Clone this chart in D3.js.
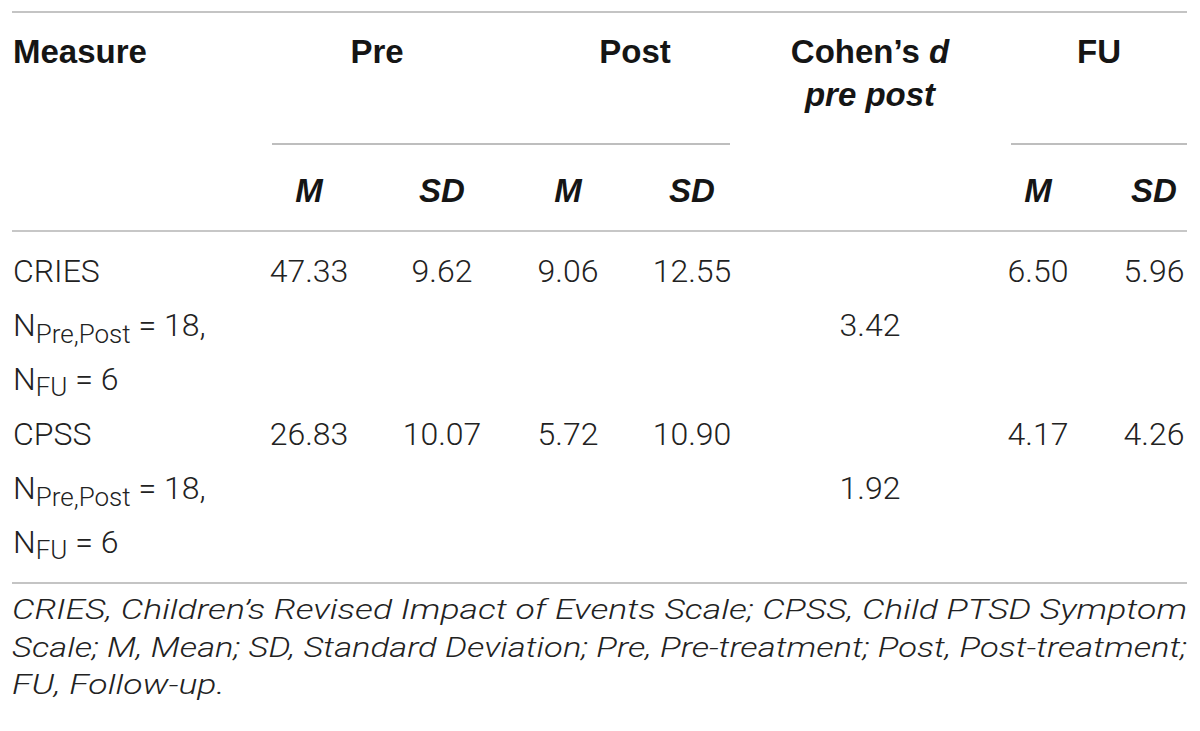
<!DOCTYPE html>
<html>
<head>
<meta charset="utf-8">
<script src="https://cdn.jsdelivr.net/npm/d3@7/dist/d3.min.js"></script>
<style>
  body { margin: 0; background: #fff; }
  .hd { font-family: "Liberation Sans", Arial, sans-serif; font-weight: bold; font-size: 33px; fill: #151515; }
  .bd { font-family: Roboto, "Liberation Sans", sans-serif; font-weight: 300; font-size: 32px; fill: #222; }
  .fn { font-family: Roboto, "Liberation Sans", sans-serif; font-weight: 300; font-style: italic; font-size: 28px; fill: #222; }
</style>
</head>
<body>
<svg id="table"></svg>
<script>
// table values
var measures = ["CRIES", "CPSS"];
var preM = [47.33, 26.83];
var preSD = [9.62, 10.07];
var postM = [9.06, 5.72];
var postSD = [12.55, 10.90];
var cohensD = [3.42, 1.92];
var fuM = [6.50, 4.17];
var fuSD = [5.96, 4.26];
var nPrePost = [18, 18];
var nFU = [6, 6];

var groupHeads = ["Pre", "Post", "FU"];
var subHeads = ["M", "SD"];
var footLines = [
  "CRIES, Children’s Revised Impact of Events Scale; CPSS, Child PTSD Symptom",
  "Scale; M, Mean; SD, Standard Deviation; Pre, Pre-treatment; Post, Post-treatment;",
  "FU, Follow-up."
];

var width = 1200, height = 731;
var left = 12, right = 1187;
var fmt = d3.format(".2f");

var svg = d3.select("#table").attr("width", width).attr("height", height);
svg.append("rect").attr("width", width).attr("height", height).attr("fill", "#fff");

// column centres
var cols = ["preM", "preSD", "postM", "postSD", "d", "fuM", "fuSD"];
var colX = d3.scaleOrdinal().domain(cols).range([309, 442, 568, 692, 870, 1038, 1154]);
// group header centres
var groupX = d3.scaleOrdinal().domain(groupHeads).range([377, 635, 1099]);

// rows: first line baseline of each measure, sub lines 54px apart
var rowY = d3.scalePoint().domain(measures).range([282, 445]);
var lineGap = 54;

// rules
var rules = [
  { x1: left, x2: right, y: 12, w: 2, c: "#c4c4c4" },
  { x1: 272, x2: 730, y: 144, w: 1.6, c: "#a8a8a8" },
  { x1: 1011, x2: right, y: 144, w: 1.6, c: "#a8a8a8" },
  { x1: left, x2: right, y: 231, w: 1.6, c: "#b4b4b4" },
  { x1: left, x2: right, y: 583, w: 2, c: "#c4c4c4" }
];
svg.selectAll("line.rule").data(rules).enter().append("line")
  .attr("class", "rule")
  .attr("x1", function(d) { return d.x1; })
  .attr("x2", function(d) { return d.x2; })
  .attr("y1", function(d) { return d.y; })
  .attr("y2", function(d) { return d.y; })
  .attr("stroke", function(d) { return d.c; })
  .attr("stroke-width", function(d) { return d.w; });

// header row
svg.append("text").attr("class", "hd").attr("x", 13).attr("y", 63).text("Measure");

svg.selectAll("text.grp").data(groupHeads).enter().append("text")
  .attr("class", "hd grp")
  .attr("x", function(d) { return groupX(d); })
  .attr("y", 63)
  .attr("text-anchor", "middle")
  .text(function(d) { return d; });

var coh = svg.append("text").attr("class", "hd").attr("x", colX("d")).attr("y", 63).attr("text-anchor", "middle");
coh.append("tspan").text("Cohen’s ");
coh.append("tspan").attr("font-style", "italic").text("d");
svg.append("text").attr("class", "hd").attr("x", colX("d")).attr("y", 106)
  .attr("text-anchor", "middle").attr("font-style", "italic").text("pre post");

var subCols = ["preM", "preSD", "postM", "postSD", "fuM", "fuSD"];
svg.selectAll("text.sub").data(subCols).enter().append("text")
  .attr("class", "hd sub")
  .attr("x", function(d) { return colX(d); })
  .attr("y", 202)
  .attr("text-anchor", "middle")
  .attr("font-style", "italic")
  .text(function(d, i) { return subHeads[i % 2]; });

// body rows
var rows = measures.map(function(m, i) {
  return { name: m, preM: preM[i], preSD: preSD[i], postM: postM[i], postSD: postSD[i],
           d: cohensD[i], fuM: fuM[i], fuSD: fuSD[i], nPP: nPrePost[i], nFU: nFU[i] };
});

var rowG = svg.selectAll("g.row").data(rows).enter().append("g")
  .attr("class", "row")
  .attr("transform", function(d) { return "translate(0," + rowY(d.name) + ")"; });

rowG.append("text").attr("class", "bd").attr("x", 13).attr("y", 0).text(function(d) { return d.name; });

var n1 = rowG.append("text").attr("class", "bd").attr("x", 13).attr("y", lineGap);
n1.append("tspan").text("N");
n1.append("tspan").attr("font-size", "26px").attr("dy", 7).text("Pre,Post");
n1.append("tspan").attr("dy", -7).text(function(d) { return " = " + d.nPP + ","; });

var n2 = rowG.append("text").attr("class", "bd").attr("x", 13).attr("y", lineGap * 2);
n2.append("tspan").text("N");
n2.append("tspan").attr("font-size", "26px").attr("dy", 6).text("FU");
n2.append("tspan").attr("dy", -6).text(function(d) { return " = " + d.nFU; });

["preM", "preSD", "postM", "postSD", "fuM", "fuSD"].forEach(function(k) {
  rowG.append("text").attr("class", "bd")
    .attr("x", colX(k)).attr("y", 0)
    .attr("text-anchor", "middle")
    .text(function(d) { return fmt(d[k]); });
});
rowG.append("text").attr("class", "bd")
  .attr("x", colX("d")).attr("y", lineGap)
  .attr("text-anchor", "middle")
  .text(function(d) { return fmt(d.d); });

// footnote: full lines justified, last line widened by the same factor as the first
var footY = d3.scalePoint().domain(d3.range(footLines.length)).range([619, 694]);
var foot = svg.selectAll("text.fn").data(footLines).enter().append("text")
  .attr("class", "fn")
  .attr("x", left)
  .attr("y", function(d, i) { return footY(i); })
  .text(function(d) { return d; });
var natural = [];
foot.each(function() { natural.push(this.getComputedTextLength()); });
var stretch = (right - left) / natural[0];
foot.attr("lengthAdjust", "spacingAndGlyphs")
  .attr("textLength", function(d, i) {
    return i < footLines.length - 1 ? right - left : natural[i] * stretch;
  });
</script>
</body>
</html>
